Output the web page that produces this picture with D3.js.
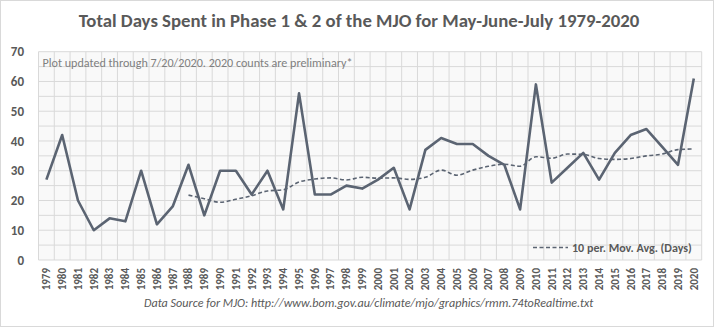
<!DOCTYPE html>
<html>
<head>
<meta charset="utf-8">
<script src="https://cdn.jsdelivr.net/npm/d3@7"></script>
<style>
  body { margin: 0; background: #fff; }
  text { font-family: Carlito, "Open Sans", "Liberation Sans", sans-serif; }
</style>
</head>
<body>
<script>
// years on the x axis
var years = ["1979","1980","1981","1982","1983","1984","1985","1986","1987","1988","1989","1990","1991","1992","1993","1994","1995","1996","1997","1998","1999","2000","2001","2002","2003","2004","2005","2006","2007","2008","2009","2010","2011","2012","2013","2014","2015","2016","2017","2018","2019","2020"];
// total days in phase 1 & 2
var days = [27,42,20,10,14,13,30,12,18,32,15,30,30,22,30,17,56,22,22,25,24,27,31,17,37,41,39,39,35,32,17,59,26,31,36,27,36,42,44,38,32,61];
// 10 period moving average, starts at 1988
var maYears = years.slice(9);
var maDays = [21.8,20.6,19.4,20.4,21.6,23.2,23.6,26.2,27.2,27.6,26.9,27.8,27.5,27.6,27.1,27.8,30.2,28.5,30.2,31.5,32.2,31.5,34.7,34.2,35.6,35.5,34.1,33.8,34.1,35.0,35.6,37.1,37.3];
var yTicks = [0,10,20,30,40,50,60,70];

var W = 715, H = 328;
var margin = {top: 51.7, left: 38.5, right: 13.3, bottom: 68};
var innerW = W - margin.left - margin.right;
var innerH = H - margin.top - margin.bottom;
var lineColor = "#5b6472";
var textColor = "#595959";

var svg = d3.select("body").append("svg").attr("width", W).attr("height", H);

svg.append("rect")
  .attr("x", 0.5).attr("y", 0.5)
  .attr("width", W - 2).attr("height", H - 2)
  .attr("fill", "#fff").attr("stroke", "#d9d9d9");

// shrink/grow font so text fits the width seen in the picture
function fit(sel, target) {
  var fs = parseFloat(sel.attr("font-size"));
  var w = sel.node().getComputedTextLength();
  sel.attr("font-size", (fs * target / w).toFixed(2));
}

var title = svg.append("text")
  .attr("x", 359).attr("y", 27)
  .attr("text-anchor", "middle")
  .attr("font-size", 16).attr("font-weight", "bold")
  .attr("fill", textColor)
  .text("Total Days Spent in Phase 1 & 2 of the MJO for May-June-July 1979-2020");
fit(title, 561);

var g = svg.append("g").attr("transform", `translate(${margin.left},${margin.top})`);

var x = d3.scaleBand().domain(years).range([0, innerW]);
var y = d3.scaleLinear().domain([0, 70]).range([innerH, 0]);

g.append("rect").attr("width", innerW).attr("height", innerH).attr("fill", "#f9f9f9");

// horizontal grid every 5
g.selectAll(".hgrid").data(d3.range(0, 75, 5)).enter().append("line")
  .attr("x1", 0).attr("x2", innerW)
  .attr("y1", d => y(d)).attr("y2", d => y(d))
  .attr("stroke", "#d9d9d9").attr("stroke-width", 1);

// vertical grid at category edges
g.selectAll(".vgrid").data(years.concat(["end"])).enter().append("line")
  .attr("x1", (d, i) => i * x.bandwidth()).attr("x2", (d, i) => i * x.bandwidth())
  .attr("y1", 0).attr("y2", innerH)
  .attr("stroke", "#d9d9d9").attr("stroke-width", 1);

// y labels
g.selectAll(".ylab").data(yTicks).enter().append("text")
  .attr("x", 24 - margin.left).attr("y", d => y(d))
  .attr("dy", "0.35em")
  .attr("text-anchor", "end")
  .attr("font-size", 13).attr("font-weight", "bold")
  .attr("fill", textColor)
  .text(d => d);

// x labels rotated
g.selectAll(".xlab").data(years).enter().append("text")
  .attr("transform", d => `translate(${x(d) + x.bandwidth() / 2},${innerH + 8}) rotate(-90)`)
  .attr("dy", "0.35em")
  .attr("text-anchor", "end")
  .attr("font-size", 11).attr("font-weight", "bold")
  .attr("fill", textColor)
  .text(d => d);

var cx = d => x(d) + x.bandwidth() / 2;

// moving average, dashed and smoothed
g.append("path")
  .datum(maDays)
  .attr("fill", "none")
  .attr("stroke", lineColor).attr("stroke-width", 1.6)
  .attr("stroke-dasharray", "4,2.5")
  .attr("d", d3.line().x((d, i) => cx(maYears[i])).y(d => y(d)).curve(d3.curveMonotoneX));

// main series
g.append("path")
  .datum(days)
  .attr("fill", "none")
  .attr("stroke", lineColor).attr("stroke-width", 2.6)
  .attr("stroke-linejoin", "round")
  .attr("d", d3.line().x((d, i) => cx(years[i])).y(d => y(d)));

var note = svg.append("text")
  .attr("x", 42.5).attr("y", 67)
  .attr("font-size", 11)
  .attr("fill", "#7f7f7f")
  .text("Plot updated through 7/20/2020. 2020 counts are preliminary*");
fit(note, 310);

// legend
svg.append("line")
  .attr("x1", 533).attr("x2", 568).attr("y1", 247.5).attr("y2", 247.5)
  .attr("stroke", lineColor).attr("stroke-width", 1.6).attr("stroke-dasharray", "4,2.5");
var leg = svg.append("text")
  .attr("x", 572).attr("y", 251.5)
  .attr("font-size", 11).attr("font-weight", "bold")
  .attr("fill", textColor)
  .text("10 per. Mov. Avg. (Days)");
fit(leg, 120);

var src = svg.append("text")
  .attr("x", 144).attr("y", 307)
  .attr("font-size", 11).attr("font-style", "italic")
  .attr("fill", textColor)
  .text("Data Source for MJO: http://www.bom.gov.au/climate/mjo/graphics/rmm.74toRealtime.txt");
fit(src, 450);
</script>
</body>
</html>
